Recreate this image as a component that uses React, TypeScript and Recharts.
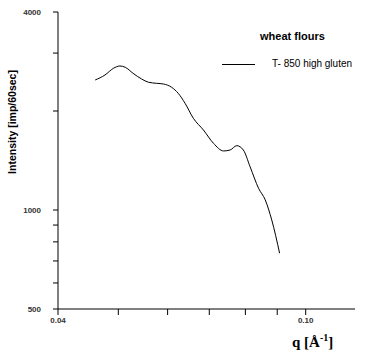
import React from "react";
import { LineChart, Line, XAxis, YAxis, Label } from "recharts";

const qValues = [0.0459, 0.0476, 0.0491, 0.0503, 0.0513, 0.0528, 0.0545, 0.0559, 0.0576, 0.0591, 0.0609, 0.0624, 0.064, 0.066, 0.0685, 0.0711, 0.0738, 0.0756, 0.0775, 0.0794, 0.0814, 0.084, 0.0861, 0.0882, 0.0908];
const intensity = [2485, 2574, 2697, 2741, 2716, 2604, 2502, 2446, 2428, 2416, 2361, 2264, 2111, 1900, 1751, 1595, 1512, 1522, 1569, 1522, 1354, 1164, 1073, 932, 739];
const xTicks = [0.04, 0.05, 0.06, 0.07, 0.08, 0.09, 0.1];
const xLabeled = [0.04, 0.1];
const yTicks = [500, 600, 700, 800, 900, 1000, 2000, 3000, 4000];
const yLabeled = [500, 1000, 4000];
const seriesName = "T- 850 high gluten";
const legendTitle = "wheat flours";

const data = qValues.map((q, i) => ({ q, v: intensity[i] }));

const tickStyle = { fontSize: 8, fontFamily: "Arial, Liberation Sans, sans-serif", fill: "#333", fontWeight: "bold" as const };

const LegendBox = () => (
  <div style={{ position: "absolute", left: 222, top: 30, width: 150, height: 60, fontFamily: "Arial, Liberation Sans, sans-serif", color: "#000" }}>
    <div style={{ position: "absolute", left: 38, top: 0, fontWeight: "bold", fontSize: 11 }}>{legendTitle}</div>
    <div style={{ position: "absolute", left: 0, top: 34, width: 33, borderTop: "1px solid #000" }} />
    <div style={{ position: "absolute", left: 50, top: 28, fontSize: 10, whiteSpace: "nowrap" }}>{seriesName}</div>
  </div>
);

export default function App() {
  return (
    <div style={{ position: "absolute", left: 0, top: 0, width: 365, height: 360, background: "#fff" }}>
      <LineChart width={365} height={360} data={data} margin={{ top: 12, right: 10, bottom: 0, left: 0 }}>
        <XAxis
          dataKey="q"
          type="number"
          scale="log"
          domain={[0.04, 0.12]}
          allowDataOverflow
          ticks={xTicks}
          tickFormatter={(t: number) => (xLabeled.some((l) => Math.abs(l - t) < 1e-9) ? t.toFixed(2) : "")}
          tick={tickStyle}
          tickSize={6}
          tickMargin={2}
          height={51}
          stroke="#000"
          tickLine={{ stroke: "#000" }}
          axisLine={{ stroke: "#000" }}
        >
          <Label
            content={() => (
              <text x={292} y={347} fontFamily="Times New Roman, Liberation Serif, serif" fontWeight="bold" fontSize={15} fill="#000">
                q [Å<tspan dy={-6} fontSize={10}>-1</tspan>
                <tspan dy={6}>]</tspan>
              </text>
            )}
          />
        </XAxis>
        <YAxis
          type="number"
          scale="log"
          domain={[500, 4000]}
          allowDataOverflow
          ticks={yTicks}
          tickFormatter={(t: number) => (yLabeled.includes(t) ? String(t) : "")}
          tick={tickStyle}
          tickSize={5}
          tickMargin={12}
          width={58}
          stroke="#000"
          tickLine={{ stroke: "#000" }}
          axisLine={{ stroke: "#000" }}
        >
          <Label
            content={() => (
              <text
                x={16}
                y={122}
                transform="rotate(-90 16 122)"
                textAnchor="middle"
                fontFamily="Arial, Liberation Sans, sans-serif"
                fontWeight="bold"
                fontSize={10.5}
                fill="#000"
              >
                Intensity [imp/60sec]
              </text>
            )}
          />
        </YAxis>
        <Line
          type="monotone"
          dataKey="v"
          name={seriesName}
          stroke="#000"
          strokeWidth={1}
          dot={false}
          isAnimationActive={false}
        />
      </LineChart>
      <LegendBox />
    </div>
  );
}
